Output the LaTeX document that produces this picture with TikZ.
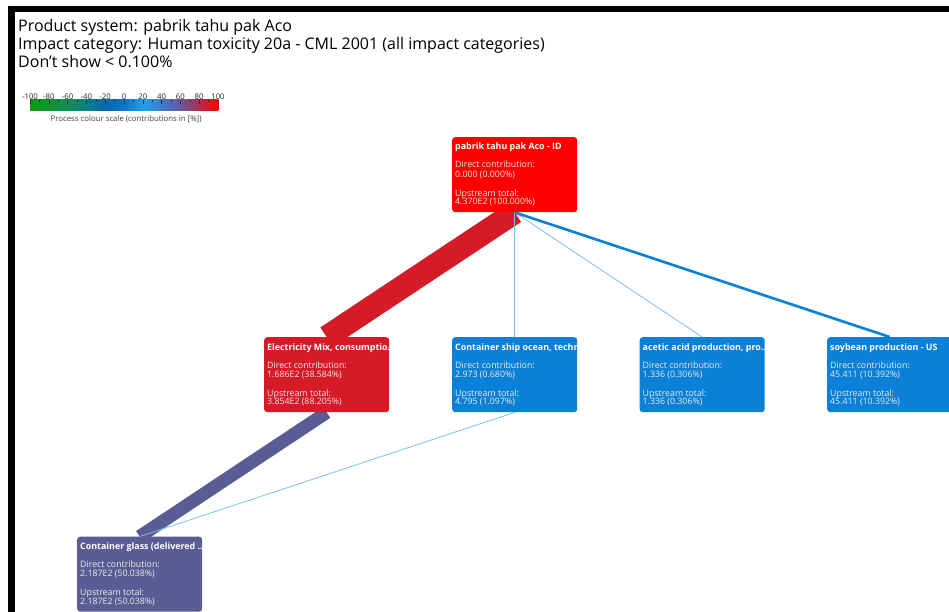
\documentclass[tikz,border=0pt]{standalone}
\usepackage{fontspec}
\setmainfont{Open Sans}
\pgfdeclarelayer{back}
\pgfdeclarelayer{links}
\pgfsetlayers{back,links,main}

% process colours
\definecolor{procred}{HTML}{FF0000}
\definecolor{proccrimson}{HTML}{D61A28}
\definecolor{procblue}{HTML}{0A80D6}
\definecolor{procslate}{HTML}{5A5C94}
\definecolor{linkblue}{HTML}{7CC0EE}
% colour scale stops (-100 ... 100)
\definecolor{sc0}{HTML}{0E9A14}
\definecolor{sc1}{HTML}{0C9630}
\definecolor{sc2}{HTML}{0A8E58}
\definecolor{sc3}{HTML}{0A8080}
\definecolor{sc4}{HTML}{0A68B0}
\definecolor{sc5}{HTML}{0A74CC}
\definecolor{sc6}{HTML}{22A0EE}
\definecolor{sc7}{HTML}{3C7ACC}
\definecolor{sc8}{HTML}{66589A}
\definecolor{sc9}{HTML}{B02C50}
\definecolor{sc10}{HTML}{FF0000}

\tikzset{
  hdr/.style={anchor=base west, inner sep=0pt, font=\fontsize{16}{18}\selectfont},
  proc/.style={rounded corners=3pt, minimum width=125pt, minimum height=75pt,
    inner sep=0pt, anchor=north west, draw=none},
  ptitle/.style={anchor=base west, inner sep=0pt, text=white,
    font=\fontsize{8.9}{9}\selectfont\bfseries},
  ptext/.style={anchor=base west, inner sep=0pt, text=white!92!black,
    font=\fontsize{8.8}{9}\selectfont},
  scalelbl/.style={inner sep=0pt, font=\fontsize{7.8}{8}\selectfont, text=black!85},
  band/.style={line cap=butt},
  thinlink/.style={draw=linkblue, line width=0.8pt},
}

% #1 name, #2 left, #3 top, #4 colour, #5 title, #6 direct, #7 upstream
\newcommand\procbox[7]{%
  \node[proc, fill=#4] (#1) at (#2,#3) {};
  \begin{scope}
    \clip[rounded corners=3pt] (#1.north west) rectangle (#1.south east);
    \node[ptitle] (#1-t) at ([shift={(3,13)}]#1.north west) {#5};
    \node[ptext] (#1-d) at ([shift={(3,31)}]#1.north west) {Direct contribution:};
    \node[ptext] (#1-dv) at ([shift={(3,40.2)}]#1.north west) {#6};
    \node[ptext] (#1-u) at ([shift={(3,59.2)}]#1.north west) {Upstream total:};
    \node[ptext] (#1-uv) at ([shift={(3,67.8)}]#1.north west) {#7};
  \end{scope}
}

\begin{document}
\begin{tikzpicture}[x=1pt,y=-1pt]
\useasboundingbox (0,0) rectangle (949,612);
\begin{pgfonlayer}{back}
  \fill[white] (0,0) rectangle (949,612);
\end{pgfonlayer}

% window frame
\fill[black] (8,6) rectangle (949,12.5);
\fill[black] (8,6) rectangle (14.5,612);

% header
\node[hdr] (h1) at (18,32) {Product system: pabrik tahu pak Aco};
\node[hdr] (h2) at (18,50) {Impact category: Human toxicity 20a - CML 2001 (all impact categories)};
\node[hdr] (h3) at (18,68) {Don’t show < 0.100\%};

% colour scale bar
\foreach \i [evaluate=\i as \j using int(\i+1)] in {0,...,9}{
  \shade[left color=sc\i, right color=sc\j]
    ({30+18.8*\i},100) rectangle ({30+18.8*(\i+1)+0.3},111);
}
\foreach \i in {0,...,10}{
  \draw[black!80, line width=0.6pt] ({30+18.8*\i},100) -- ({30+18.8*\i},104);
}
\foreach \i in {0,...,9}{
  \draw[black!80, line width=0.5pt] ({39.4+18.8*\i},100) -- ({39.4+18.8*\i},102);
}
\foreach \v [count=\k from 0] in {-100,-80,-60,-40,-20,0,20,40,60,80,100}{
  \node[scalelbl] (lbl\k) at ({30+18.8*\k},96.5) {\v};
}
\node[scalelbl, anchor=west, text=black!75] (cap) at (50.5,119.5)
  {Process colour scale (contributions in [\%])};

% process boxes
\procbox{top}{452}{137}{procred}{pabrik tahu pak Aco - ID}{0.000 (0.000\%)}{4.370E2 (100.000\%)}
\procbox{elec}{264}{337}{proccrimson}{Electricity Mix, consumptio...}{1.686E2 (38.584\%)}{3.854E2 (88.205\%)}
\procbox{ship}{452}{337}{procblue}{Container ship ocean, techn...}{2.973 (0.680\%)}{4.795 (1.097\%)}
\procbox{acet}{639.5}{337}{procblue}{acetic acid production, pro...}{1.336 (0.306\%)}{1.336 (0.306\%)}
\procbox{soy}{827}{337}{procblue}{soybean production - US}{45.411 (10.392\%)}{45.411 (10.392\%)}
\procbox{glass}{77}{536.5}{procslate}{Container glass (delivered ...}{2.187E2 (50.038\%)}{2.187E2 (50.038\%)}

% contribution links, width follows the upstream share
\begin{pgfonlayer}{links}
  \draw[band, draw=proccrimson, line width=23pt] (top.south) -- (elec.north);
  \draw[band, draw=procslate, line width=13pt] (elec.south) -- (glass.north);
  \draw[thinlink] (top.south) -- (ship.north);
  \draw[thinlink] (top.south) -- (acet.north);
  \draw[band, draw=procblue, line width=2.6pt] (top.south) -- (soy.north);
  \draw[thinlink] (ship.south) -- (glass.north);
\end{pgfonlayer}
\end{tikzpicture}
\end{document}
